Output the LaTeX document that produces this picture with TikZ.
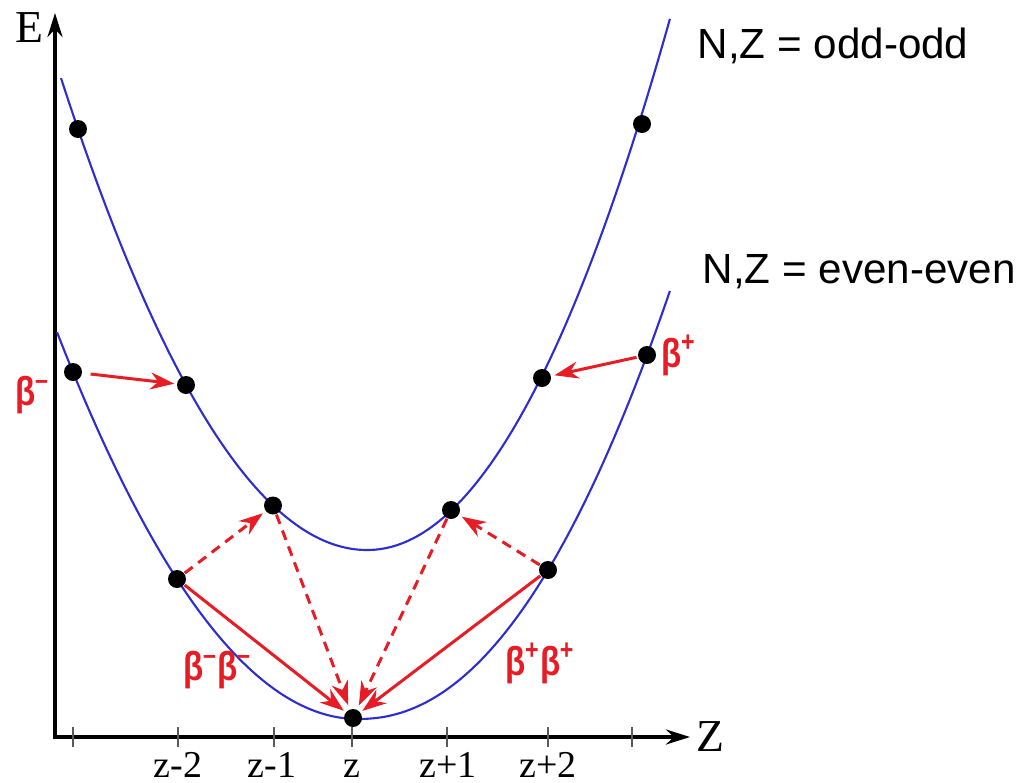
\documentclass[tikz,border=0pt]{standalone}
\usepackage{fontspec}
\setmainfont{Liberation Serif}
\newfontfamily\labsans{Liberation Sans}
\newfontfamily\betasans[FakeStretch=0.82]{Liberation Sans}
\usetikzlibrary{arrows.meta}
\definecolor{decred}{RGB}{232,28,36}
\definecolor{curveblue}{RGB}{45,45,210}
\definecolor{tickgray}{RGB}{90,90,90}
\tikzset{
  axisline/.style={line width=0.033cm, line join=miter},
  curve/.style={line width=0.6pt, draw=curveblue},
  dot/.style={circle, fill=black, minimum size=0.18cm, inner sep=0pt},
  decay/.style={draw=decred, line width=0.03cm, -{Stealth[length=0.24cm,width=0.17cm]}},
  ddecay/.style={decay, dash pattern=on 0.1cm off 0.07cm},
  betalab/.style={text=decred, font=\betasans\bfseries\fontsize{11.5}{13}\selectfont, inner sep=0pt},
  ticklab/.style={font=\fontsize{10.8}{12}\selectfont, inner sep=0pt, anchor=base},
  axlab/.style={font=\fontsize{13}{15}\selectfont, inner sep=0pt, anchor=west},
  nzlab/.style={font=\labsans\fontsize{12}{14}\selectfont, inner sep=0pt, anchor=base west},
  tickmark/.style={draw=tickgray, line width=0.015cm}
}
\newcommand{\supm}{\kern-0.02em\textsuperscript{–}}
\newcommand{\supp}{\kern-0.02em\textsuperscript{+}}
\begin{document}
\begin{tikzpicture}[x=1cm,y=-1cm]
\useasboundingbox (0,0) rectangle (10.25,7.82);

% axes
\coordinate (O) at (0.55,7.37);
\coordinate (Etip) at (0.55,0.13);
\coordinate (Ztip) at (6.90,7.37);
\draw[axisline,{Stealth[length=0.24cm,width=0.15cm]}-{Stealth[length=0.24cm,width=0.15cm]}] (Etip) -- (O) -- (Ztip);
\node[axlab] (Elab) at (0.15,0.28) {E};
\node[axlab] (Zlab) at (6.96,7.37) {Z};

% ticks
\foreach \t in {0.73,1.78,2.74,3.52,4.47,5.48,6.32}
  \draw[tickmark] (\t,7.27) -- (\t,7.47);

% tick labels
\node[ticklab] (t1) at (1.78,7.77) {z-2};
\node[ticklab] (t2) at (2.72,7.77) {z-1};
\node[ticklab] (t3) at (3.52,7.77) {z};
\node[ticklab] (t4) at (4.48,7.77) {z+1};
\node[ticklab] (t5) at (5.48,7.77) {z+2};

% curves
\draw[curve] plot[domain=0.61:3.67,samples=80] (\x,{5.50-0.504*(\x-3.67)^2})
  -- plot[domain=3.67:6.70,samples=80] (\x,{5.50-0.56*(\x-3.67)^2.03});
\draw[curve] plot[domain=0.57:3.58,samples=80] (\x,{7.19-0.427*(\x-3.58)^2})
  -- plot[domain=3.59:6.70,samples=80] (\x,{7.19-0.3796*(\x-3.58)^2.13});

% labels of the curves
\node[nzlab] (nzodd) at (6.97,0.58) {N,Z = odd-odd};
\node[nzlab] (nzeven) at (7.02,2.83) {N,Z = even-even};

% dots: even-even (lower)
\node[dot] (e1) at (0.73,3.72) {};
\node[dot] (e2) at (1.77,5.79) {};
\node[dot] (e3) at (3.53,7.18) {};
\node[dot] (e4) at (5.48,5.70) {};
\node[dot] (e5) at (6.47,3.55) {};
% dots: odd-odd (upper)
\node[dot] (o1) at (0.78,1.29) {};
\node[dot] (o2) at (1.86,3.85) {};
\node[dot] (o3) at (2.73,5.055) {};
\node[dot] (o4) at (4.51,5.10) {};
\node[dot] (o5) at (5.42,3.78) {};
\node[dot] (o6) at (6.42,1.24) {};

% decays
\draw[decay, shorten <=0.08cm, shorten >=0.02cm] (e1) -- (o2);
\draw[decay, shorten <=0.01cm, shorten >=0.03cm] (e5) -- (o5);
\draw[ddecay, shorten >=0.03cm] (e2) -- (o3);
\draw[ddecay, shorten >=0.04cm] (o3) -- (e3);
\draw[ddecay, shorten >=0.04cm] (o4) -- (e3);
\draw[ddecay, shorten >=0.03cm] (e4) -- (o4);
\draw[decay, shorten >=0.02cm] (e2) -- (e3);
\draw[decay, shorten >=0.02cm] (e4) -- (e3);

% beta labels
\node[betalab, anchor=base west] (bm) at (0.15,4.05) {β\supm};
\node[betalab, anchor=base west] (bp) at (6.61,3.67) {β\supp};
\node[betalab, anchor=base west] (bmbm) at (1.83,6.80) {β\supm β\supm};
\node[betalab, anchor=base west] (bpbp) at (5.05,6.75) {β\supp β\supp};
\end{tikzpicture}
\end{document}
